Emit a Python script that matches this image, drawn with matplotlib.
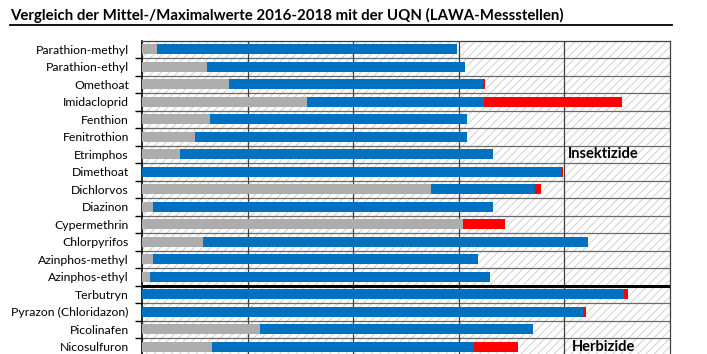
import matplotlib
matplotlib.use("Agg")
import matplotlib.pyplot as plt
from matplotlib.patches import Rectangle
from matplotlib.lines import Line2D

plt.rcParams["font.family"] = ["Lato", "DejaVu Sans"]
plt.rcParams["hatch.linewidth"] = 0.6
plt.rcParams["hatch.color"] = "#c8c8c8"

# data (axis units)
substances = [
    "Parathion-methyl", "Parathion-ethyl", "Omethoat", "Imidacloprid",
    "Fenthion", "Fenitrothion", "Etrimphos", "Dimethoat", "Dichlorvos",
    "Diazinon", "Cypermethrin", "Chlorpyrifos", "Azinphos-methyl",
    "Azinphos-ethyl", "Terbutryn", "Pyrazon (Chloridazon)", "Picolinafen",
    "Nicosulfuron",
]
mean_part = [0.14, 0.62, 0.82, 1.56, 0.64, 0.50, 0.36, 0.00, 2.74, 0.10,
             3.04, 0.58, 0.10, 0.08, 0.00, 0.00, 1.12, 0.66]
max_part = [2.84, 2.44, 2.41, 1.68, 2.44, 2.58, 2.96, 3.97, 0.98, 3.22,
            0.00, 3.64, 3.08, 3.22, 4.56, 4.18, 2.58, 2.48]
over_part = [0.00, 0.00, 0.02, 1.31, 0.00, 0.00, 0.00, 0.015, 0.06, 0.00,
             0.40, 0.00, 0.00, 0.00, 0.045, 0.025, 0.00, 0.42]
n_insect = 14
groups = ["Insektizide", "Herbizide"]

W, H = 707, 354
fig = plt.figure(figsize=(W / 100, H / 100), dpi=100)

row_h = 17.5
n_rows = 20
top = 40.5
left, right = 142, 670
ax = fig.add_axes([left / W, 1 - (top + n_rows * row_h) / H,
                   (right - left) / W, n_rows * row_h / H])

ax.add_patch(Rectangle((0, 0), 1, 1, transform=ax.transAxes, facecolor="white",
                       edgecolor="#c8c8c8", hatch="////", lw=0, zorder=0))

y = [i + 0.5 for i in range(len(substances))]
bh = 0.58
ax.barh(y, mean_part, height=bh, color="#adadad", zorder=3)
ax.barh(y, max_part, left=mean_part, height=bh, color="#0070c0", zorder=3)
ends = [a + b for a, b in zip(mean_part, max_part)]
ax.barh(y, over_part, left=ends, height=bh, color="#ff0000", zorder=3)

ax.set_xlim(0, 5)
ax.set_ylim(n_rows, 0)

for k in range(1, n_rows):
    if k == n_insect:
        ax.axhline(k, color="black", lw=2.2, zorder=4)
    else:
        ax.axhline(k, color="#6a6a6a", lw=0.9, zorder=2)
for xv in range(1, 5):
    ax.axvline(xv, color="#404040", lw=0.9, zorder=2)

ax.set_yticks(y)
ax.set_yticklabels(substances, fontsize=8.8)
ax.set_yticks(range(1, n_rows), minor=True)
ax.tick_params(axis="y", which="major", length=0, pad=9.5)
ax.tick_params(axis="y", which="minor", length=5, width=1, color="black")
ax.set_xticks([])
for side in ["top", "right", "bottom"]:
    ax.spines[side].set_color("#404040")
    ax.spines[side].set_linewidth(0.9)
ax.spines["left"].set_color("black")
ax.spines["left"].set_linewidth(1.2)

ax.text(4.03, 6.5, groups[0], fontsize=10.5, fontweight="bold", va="center", zorder=5)
ax.text(4.07, 17.5, groups[1], fontsize=10.5, fontweight="bold", va="center", zorder=5)

fig.text(10 / W, 1 - 15 / H, "Vergleich der Mittel-/Maximalwerte 2016-2018 mit der UQN (LAWA-Messstellen)",
         fontsize=10.8, fontweight="bold", va="center", ha="left")
fig.add_artist(Line2D([10 / W, 672 / W], [1 - 25 / H, 1 - 25 / H], color="black", lw=1.3))

fig.savefig("out.png", dpi=100)
